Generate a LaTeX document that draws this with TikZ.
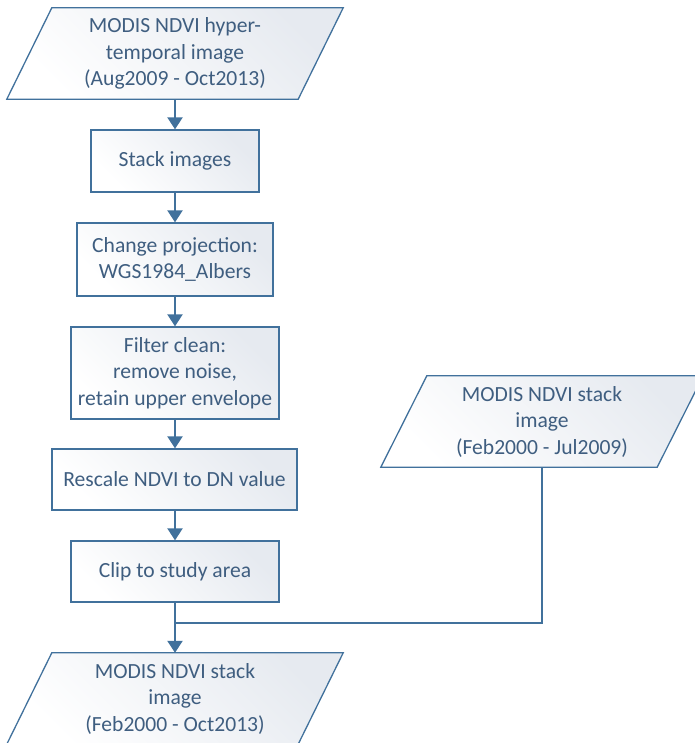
\documentclass[tikz,border=0pt]{standalone}
\usepackage{fontspec}
\setmainfont{Carlito}
\usetikzlibrary{arrows.meta,backgrounds}
\definecolor{linec}{HTML}{41719C}
\definecolor{textc}{HTML}{3F5E80}
\definecolor{fillc}{HTML}{E6EAF0}
\tikzset{
  base/.style={text=textc, align=center, font=\fontsize{21.6}{26.5}\selectfont, inner sep=0pt},
  procbox/.style={base, draw=linec, line width=1.3pt, left color=fillc, right color=white, shading angle=-45},
  iobox/.style={base, draw=none},
  iofill/.style={draw=linec, line width=1.3pt, left color=fillc, right color=white, shading angle=-45},
  conn/.style={draw=linec, line width=2.2pt},
  arr/.style={conn, -{Triangle[width=15pt,length=12pt]}}
}
\newcommand\paradraw[2]{%
  \begin{pgfonlayer}{background}
  \path[iofill] ([xshift=#2]#1.north west) -- (#1.north east) -- ([xshift=-#2]#1.south east) -- (#1.south west) -- cycle;
  \end{pgfonlayer}}
\begin{document}
\begin{tikzpicture}[x=1pt,y=-1pt]
\useasboundingbox (0,0) rectangle (694,743);
\node[iobox, minimum width=336pt, minimum height=91pt] (in1) at (175,53.5) {MODIS NDVI hyper-\\temporal image\\(Aug2009 - Oct2013)};
\paradraw{in1}{45pt}
\node[procbox, minimum width=168pt, minimum height=62pt] (stack) at (175,161) {Stack images};
\node[procbox, minimum width=196pt, minimum height=73pt] (proj) at (175,259.5) {Change projection:\\WGS1984\_Albers};
\node[procbox, minimum width=208pt, minimum height=92pt] (filt) at (175,373) {Filter clean:\\remove noise,\\retain upper envelope};
\node[procbox, minimum width=245pt, minimum height=61pt] (resc) at (174.5,479.5) {Rescale NDVI to DN value};
\node[procbox, minimum width=208pt, minimum height=61pt] (clip) at (175,571.5) {Clip to study area};
\node[iobox, minimum width=322pt, minimum height=91pt] (in2) at (542,421.5) {MODIS NDVI stack\\image\\(Feb2000 - Jul2009)};
\paradraw{in2}{46pt}
\node[iobox, minimum width=336pt, minimum height=91pt] (out) at (175,698.5) {MODIS NDVI stack\\image\\(Feb2000 - Oct2013)};
\paradraw{out}{45pt}
\coordinate (j) at (175,623);
\draw[arr] (in1.south -| stack.north) -- (stack.north);
\draw[arr] (stack) -- (proj);
\draw[arr] (proj) -- (filt);
\draw[arr] (filt) -- (resc.north -| filt.south);
\draw[arr] (resc.south -| clip.north) -- (clip);
\draw[arr] (clip) -- (out.north -| clip.south);
\draw[conn] (in2.south) |- (j);
\end{tikzpicture}
\end{document}
